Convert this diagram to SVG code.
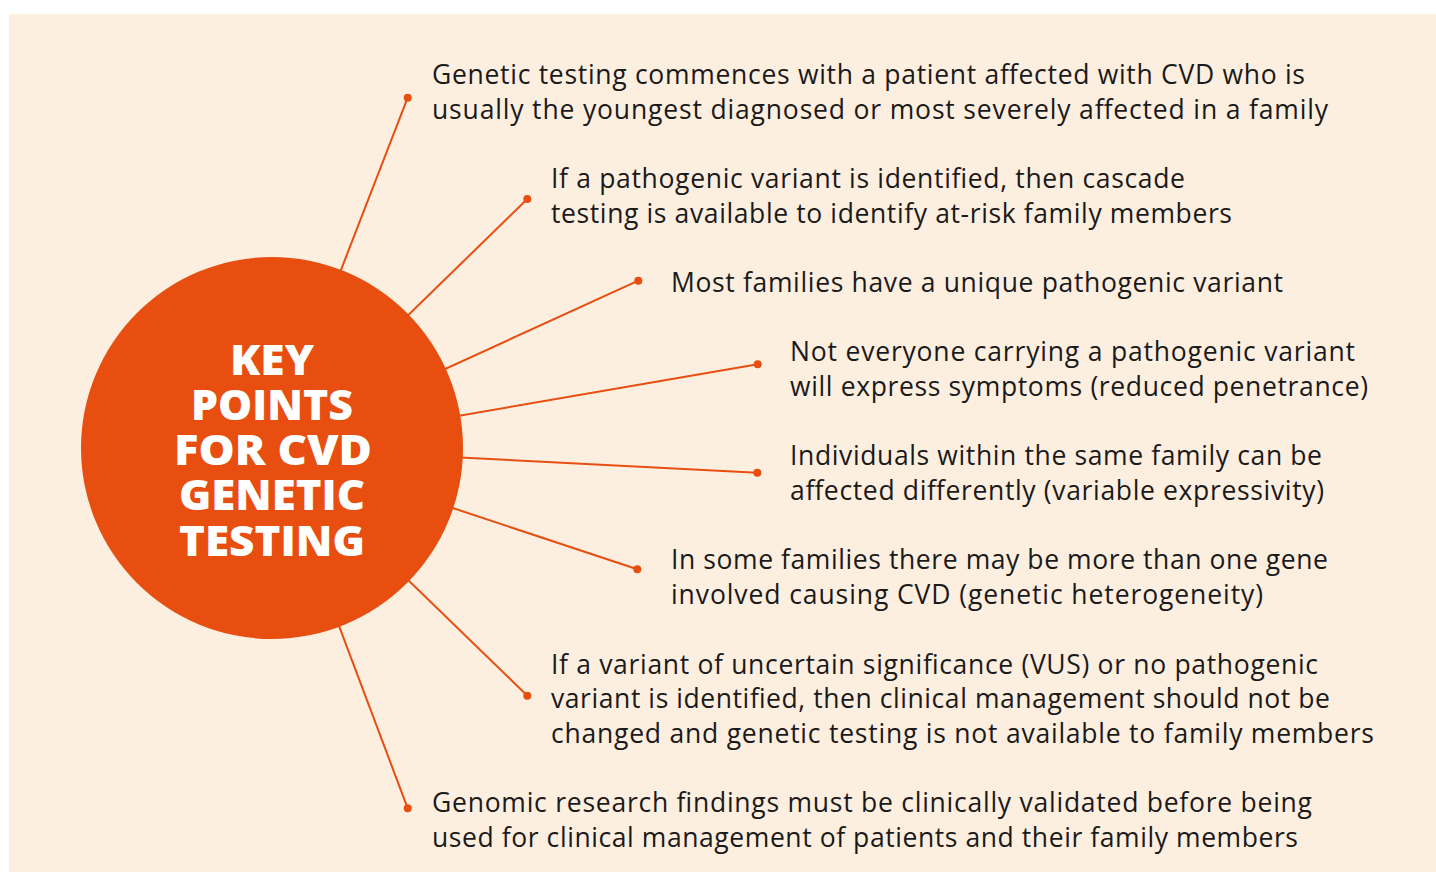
<svg xmlns="http://www.w3.org/2000/svg" width="1436" height="872" viewBox="0 0 1436 872">
<style>
.pt{font-family:"Open Sans",Lato,sans-serif;font-size:26.5px;fill:#1a1a1a}
.ttl{font-family:"Open Sans",Lato,sans-serif;font-weight:800;font-size:42px;fill:#ffffff;text-anchor:middle}
.cn{stroke:#E84E10;stroke-width:2;fill:none}
.dot{fill:#E84E10}
</style>
<rect x="0" y="0" width="1436" height="872" fill="#ffffff"/>
<rect x="9" y="14" width="1427" height="858" fill="#FDEFE0"/>
<g id="connectors">
<line class="cn" x1="272" y1="448" x2="407.7" y2="97.7"/>
<line class="cn" x1="272" y1="448" x2="527.3" y2="199"/>
<line class="cn" x1="272" y1="448" x2="638.3" y2="280.7"/>
<line class="cn" x1="272" y1="448" x2="757.7" y2="364.3"/>
<line class="cn" x1="272" y1="448" x2="757.3" y2="472.7"/>
<line class="cn" x1="272" y1="448" x2="637.3" y2="569.3"/>
<line class="cn" x1="272" y1="448" x2="527.3" y2="695.7"/>
<line class="cn" x1="272" y1="448" x2="407.7" y2="808.3"/>
<circle class="dot" cx="407.7" cy="97.7" r="4"/>
<circle class="dot" cx="527.3" cy="199" r="4"/>
<circle class="dot" cx="638.3" cy="280.7" r="4"/>
<circle class="dot" cx="757.7" cy="364.3" r="4"/>
<circle class="dot" cx="757.3" cy="472.7" r="4"/>
<circle class="dot" cx="637.3" cy="569.3" r="4"/>
<circle class="dot" cx="527.3" cy="695.7" r="4"/>
<circle class="dot" cx="407.7" cy="808.3" r="4"/>
</g>
<g id="center">
<circle cx="272" cy="448" r="191" fill="#E84E10"/>
<text class="ttl"><tspan x="272" y="375" textLength="84" lengthAdjust="spacingAndGlyphs">KEY</tspan><tspan x="272" y="420" textLength="162" lengthAdjust="spacingAndGlyphs">POINTS</tspan><tspan x="273" y="465" textLength="198" lengthAdjust="spacingAndGlyphs">FOR CVD</tspan><tspan x="272" y="510" textLength="186" lengthAdjust="spacingAndGlyphs">GENETIC</tspan><tspan x="272" y="556" textLength="186" lengthAdjust="spacingAndGlyphs">TESTING</tspan></text>
</g>
<g id="point1">
<text class="pt" x="432" y="84" textLength="873">Genetic testing commences with a patient affected with CVD who is</text>
<text class="pt" x="432" y="119" textLength="896">usually the youngest diagnosed or most severely affected in a family</text>
</g>
<g id="point2">
<text class="pt" x="551" y="188" textLength="634">If a pathogenic variant is identified, then cascade</text>
<text class="pt" x="551" y="223" textLength="681">testing is available to identify at-risk family members</text>
</g>
<g id="point3">
<text class="pt" x="671" y="292" textLength="612">Most families have a unique pathogenic variant</text>
</g>
<g id="point4">
<text class="pt" x="790" y="361" textLength="565">Not everyone carrying a pathogenic variant</text>
<text class="pt" x="790" y="396" textLength="578">will express symptoms (reduced penetrance)</text>
</g>
<g id="point5">
<text class="pt" x="790" y="465" textLength="532">Individuals within the same family can be</text>
<text class="pt" x="790" y="500" textLength="534">affected differently (variable expressivity)</text>
</g>
<g id="point6">
<text class="pt" x="671" y="569" textLength="657">In some families there may be more than one gene</text>
<text class="pt" x="671" y="604" textLength="592">involved causing CVD (genetic heterogeneity)</text>
</g>
<g id="point7">
<text class="pt" x="551" y="674" textLength="767">If a variant of uncertain significance (VUS) or no pathogenic</text>
<text class="pt" x="551" y="708" textLength="779">variant is identified, then clinical management should not be</text>
<text class="pt" x="551" y="743" textLength="823">changed and genetic testing is not available to family members</text>
</g>
<g id="point8">
<text class="pt" x="432" y="812" textLength="880">Genomic research findings must be clinically validated before being</text>
<text class="pt" x="432" y="847" textLength="866">used for clinical management of patients and their family members</text>
</g>
</svg>
